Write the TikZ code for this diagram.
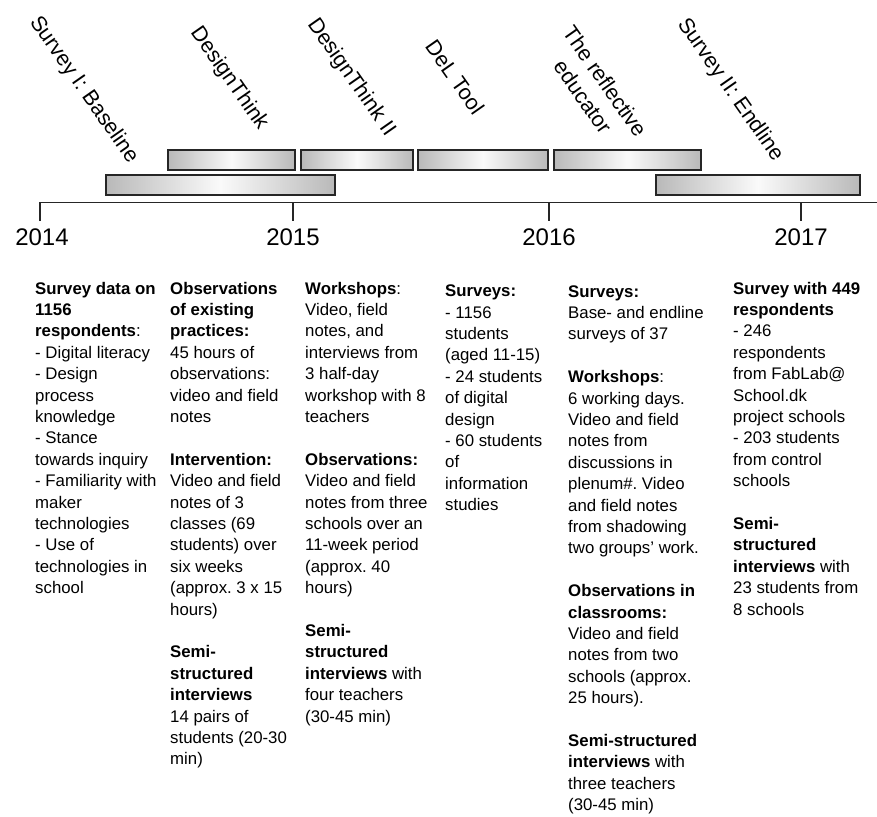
\documentclass[tikz,border=0pt]{standalone}
\usepackage{fontspec}
\setmainfont{Liberation Sans}
\frenchspacing
\begin{document}
\begin{tikzpicture}[x=1pt,y=-1pt,
  bar/.style={draw=black!85, line width=1.4pt, left color=gray!55, right color=gray!55, middle color=white!96!gray},
  axisline/.style={draw=black!85, line width=1.8pt},
  yearlbl/.style={font=\fontsize{24}{28}\selectfont, anchor=base, inner sep=0pt},
  phase/.style={font=\fontsize{21.5}{27}\selectfont, rotate=-55, inner sep=0pt, align=center},
  col/.style={font=\fontsize{16.8}{21.4}\selectfont\frenchspacing, anchor=north west, inner sep=0pt, align=left},
]
\useasboundingbox (0,0) rectangle (877,816);

% bars
\shade[bar] (168,150) rectangle (295,170);
\shade[bar] (301,150) rectangle (413,170);
\shade[bar] (418,150) rectangle (548,170);
\shade[bar] (554,150) rectangle (701,170);
\shade[bar] (106,175) rectangle (335,195);
\shade[bar] (656,175) rectangle (860,195);

% timeline
\draw[axisline, line join=miter] (40,221) -- (40,202.5) -- (877,202.5);
\draw[axisline] (293,202.5) -- (293,221);
\draw[axisline] (549,202.5) -- (549,221);
\draw[axisline] (801,202.5) -- (801,221);

\node[yearlbl] (y14) at (42,245) {2014};
\node[yearlbl] (y15) at (293,245) {2015};
\node[yearlbl] (y16) at (549,245) {2016};
\node[yearlbl] (y17) at (801,245) {2017};

% phase labels
\node[phase] (p1) at (83.5,90) {Survey I: Baseline};
\node[phase] (p2) at (229,78.5) {DesignThink};
\node[phase] (p3) at (351,77.5) {DesignThink II};
\node[phase] (p4) at (455,77) {DeL Tool};
\node[phase] (p5) at (594,89) {The reflective\\educator};
\node[phase] (p6) at (730,90) {Survey II: Endline};

% columns
\node[col] (c1) at (35,279) {\strut\textbf{Survey data on}\\
\textbf{1156}\\
\textbf{respondents}:\\
- Digital literacy\\
- Design\\
process\\
knowledge\\
- Stance\\
towards inquiry\\
- Familiarity with\\
maker\\
technologies\\
- Use of\\
technologies in\\
school};

\node[col] (c2) at (170,279) {\strut\textbf{Observations}\\
\textbf{of existing}\\
\textbf{practices:}\\
45 hours of\\
observations:\\
video and field\\
notes\\[21.4pt]
\textbf{Intervention:}\\
Video and field\\
notes of 3\\
classes (69\\
students) over\\
six weeks\\
(approx. 3 x 15\\
hours)\\[21.4pt]
\textbf{Semi-}\\
\textbf{structured}\\
\textbf{interviews}\\
14 pairs of\\
students (20-30\\
min)};

\node[col] (c3) at (305,279) {\strut\textbf{Workshops}:\\
Video, field\\
notes, and\\
interviews from\\
3 half-day\\
workshop with 8\\
teachers\\[21.4pt]
\textbf{Observations:}\\
Video and field\\
notes from three\\
schools over an\\
11-week period\\
(approx. 40\\
hours)\\[21.4pt]
\textbf{Semi-}\\
\textbf{structured}\\
\textbf{interviews} with\\
four teachers\\
(30-45 min)};

\node[col] (c4) at (445,281.5) {\strut\textbf{Surveys:}\\
- 1156\\
students\\
(aged 11-15)\\
- 24 students\\
of digital\\
design\\
- 60 students\\
of\\
information\\
studies};

\node[col] (c5) at (568,282) {\strut\textbf{Surveys:}\\
Base- and endline\\
surveys of 37\\[21.4pt]
\textbf{Workshops}:\\
6 working days.\\
Video and field\\
notes from\\
discussions in\\
plenum\#. Video\\
and field notes\\
from shadowing\\
two groups’ work.\\[21.4pt]
\textbf{Observations in}\\
\textbf{classrooms:}\\
Video and field\\
notes from two\\
schools (approx.\\
25 hours).\\[21.4pt]
\textbf{Semi-structured}\\
\textbf{interviews} with\\
three teachers\\
(30-45 min)};

\node[col] (c6) at (733,279) {\strut\textbf{Survey with 449}\\
\textbf{respondents}\\
- 246\\
respondents\\
from FabLab@\\
School.dk\\
project schools\\
- 203 students\\
from control\\
schools\\[21.4pt]
\textbf{Semi-}\\
\textbf{structured}\\
\textbf{interviews} with\\
23 students from\\
8 schools};
\end{tikzpicture}
\end{document}
